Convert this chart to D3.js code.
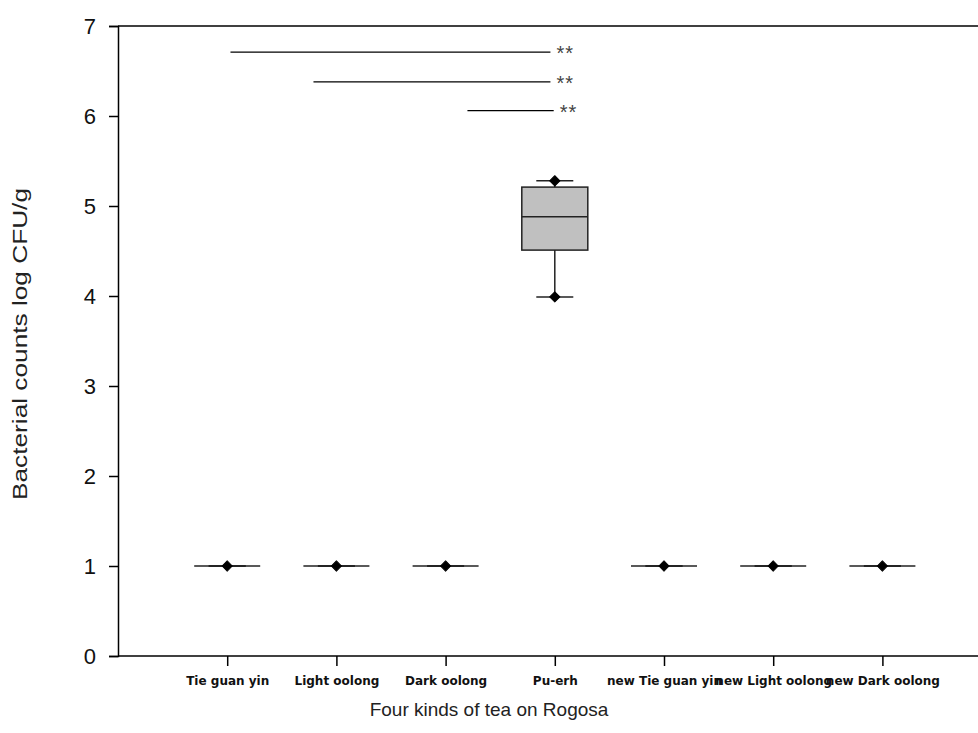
<!DOCTYPE html>
<html>
<head>
<meta charset="utf-8">
<script src="https://cdn.jsdelivr.net/npm/d3@7"></script>
<style>
  body { margin: 0; background: #fff; }
  svg { display: block; }
</style>
</head>
<body>
<div id="chart"></div>
<script>
// categories and box stats
var categories = ["Tie guan yin", "Light oolong", "Dark oolong", "Pu-erh",
                  "new Tie guan yin", "new Light oolong", "new Dark oolong"];
var whiskerLow = [1, 1, 1, 3.99, 1, 1, 1];
var q1         = [1, 1, 1, 4.51, 1, 1, 1];
var median     = [1, 1, 1, 4.88, 1, 1, 1];
var q3         = [1, 1, 1, 5.21, 1, 1, 1];
var whiskerHigh= [1, 1, 1, 5.28, 1, 1, 1];
var points     = [[1], [1], [1], [3.99, 5.28], [1], [1], [1]];

// significance bars (x in category units, 1 = first category)
var sigStart = [1.03, 1.79, 3.2];
var sigEnd   = [3.96, 3.96, 3.99];
var sigY     = [6.71, 6.38, 6.06];
var sigText  = ["**", "**", "**"];

var yTicks = [0, 1, 2, 3, 4, 5, 6, 7];

var w = 978, h = 733;

var svg = d3.select("#chart").append("svg")
    .attr("width", w)
    .attr("height", h);

var x = d3.scaleLinear().domain([0, 8]).range([118, 118 + 8 * 109.2]);
var y = d3.scaleLinear().domain([0, 7]).range([656, 26]);

var boxW = 66, capW = 37;

// frame top line
svg.append("line")
    .attr("x1", x(0)).attr("x2", w)
    .attr("y1", y(7)).attr("y2", y(7))
    .style("stroke", "#000").style("stroke-width", 1.5);

// y axis
var yAxis = svg.append("g")
    .attr("transform", "translate(" + x(0) + ",0)")
    .call(d3.axisLeft(y).tickValues(yTicks).tickSize(9).tickPadding(13).tickFormat(d3.format("d")));
yAxis.select(".domain").style("stroke-width", 1.5);
yAxis.selectAll(".tick line").style("stroke-width", 1.5);
yAxis.selectAll("text")
    .style("font-family", "Liberation Sans, Arial, sans-serif")
    .style("font-size", "22px")
    .style("fill", "#111");

// x axis
var xAxis = svg.append("g")
    .attr("transform", "translate(0," + y(0) + ")")
    .call(d3.axisBottom(x)
        .tickValues(d3.range(1, categories.length + 1))
        .tickSize(10).tickPadding(10)
        .tickFormat(function (d) { return categories[d - 1]; }));
xAxis.select(".domain").attr("d", "M" + x(0) + ",0H" + w).style("stroke-width", 1.5);
xAxis.selectAll(".tick line").style("stroke-width", 1.5);
xAxis.selectAll("text")
    .style("font-family", "DejaVu Sans, sans-serif")
    .style("font-weight", "bold")
    .style("font-size", "12px")
    .style("fill", "#111");

// boxes
var idx = d3.range(categories.length);
var g = svg.selectAll("g.box").data(idx).enter().append("g").attr("class", "box");

g.append("line") // whisker stem
    .attr("x1", function (i) { return x(i + 1); })
    .attr("x2", function (i) { return x(i + 1); })
    .attr("y1", function (i) { return y(whiskerLow[i]); })
    .attr("y2", function (i) { return y(whiskerHigh[i]); })
    .style("stroke", "#222").style("stroke-width", 1.5);

g.selectAll("line.cap")
    .data(function (i) { return [[i, whiskerLow[i]], [i, whiskerHigh[i]]]; })
    .enter().append("line").attr("class", "cap")
    .attr("x1", function (d) { return x(d[0] + 1) - capW / 2; })
    .attr("x2", function (d) { return x(d[0] + 1) + capW / 2; })
    .attr("y1", function (d) { return y(d[1]); })
    .attr("y2", function (d) { return y(d[1]); })
    .style("stroke", "#222").style("stroke-width", 1.5);

g.append("rect")
    .attr("x", function (i) { return x(i + 1) - boxW / 2; })
    .attr("width", boxW)
    .attr("y", function (i) { return y(q3[i]); })
    .attr("height", function (i) { return y(q1[i]) - y(q3[i]); })
    .style("fill", "#c0c0c0")
    .style("stroke", "#222").style("stroke-width", 1.5);

g.append("line") // median
    .attr("x1", function (i) { return x(i + 1) - boxW / 2; })
    .attr("x2", function (i) { return x(i + 1) + boxW / 2; })
    .attr("y1", function (i) { return y(median[i]); })
    .attr("y2", function (i) { return y(median[i]); })
    .style("stroke", "#222").style("stroke-width", 1.5);

g.selectAll("path.pt")
    .data(function (i) { return points[i].map(function (v) { return [i, v]; }); })
    .enter().append("path").attr("class", "pt")
    .attr("d", d3.symbol().type(d3.symbolSquare).size(52))
    .attr("transform", function (d) { return "translate(" + x(d[0] + 1) + "," + y(d[1]) + ") rotate(45)"; })
    .style("fill", "#000")
    .style("stroke", "#000").style("stroke-width", 1).style("stroke-linejoin", "round");

// significance lines
var sig = svg.selectAll("g.sig").data(sigY).enter().append("g").attr("class", "sig");
sig.append("line")
    .attr("x1", function (d, i) { return x(sigStart[i]); })
    .attr("x2", function (d, i) { return x(sigEnd[i]); })
    .attr("y1", function (d) { return y(d); })
    .attr("y2", function (d) { return y(d); })
    .style("stroke", "#000").style("stroke-width", 1.3);
sig.append("text")
    .attr("x", function (d, i) { return x(sigEnd[i]) + 6; })
    .attr("y", function (d) { return y(d) + 8; })
    .text(function (d, i) { return sigText[i]; })
    .style("font-family", "Liberation Sans, Arial, sans-serif")
    .style("font-size", "20px")
    .style("letter-spacing", "1px")
    .style("fill", "#444");

// axis titles
svg.append("text")
    .attr("transform", "translate(27,344) rotate(-90)")
    .attr("text-anchor", "middle")
    .attr("textLength", 312)
    .attr("lengthAdjust", "spacingAndGlyphs")
    .style("font-family", "Liberation Sans, Arial, sans-serif")
    .style("font-size", "20px")
    .style("fill", "#222")
    .text("Bacterial counts log CFU/g");

svg.append("text")
    .attr("x", 489).attr("y", 716)
    .attr("text-anchor", "middle")
    .style("font-family", "Liberation Sans, Arial, sans-serif")
    .style("font-size", "19px")
    .style("fill", "#222")
    .text("Four kinds of tea on Rogosa");
</script>
</body>
</html>
